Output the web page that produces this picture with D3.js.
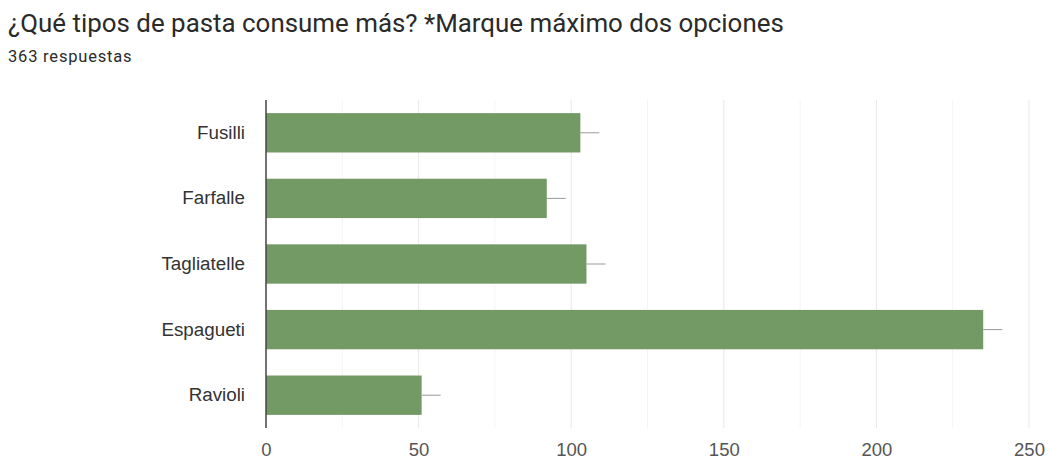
<!DOCTYPE html>
<html><head><meta charset="utf-8">
<script src="https://cdn.jsdelivr.net/npm/d3@7"></script>
<style>html,body{margin:0;padding:0;background:#fff;}</style>
</head><body>
<svg id="chart" width="1048" height="463"></svg>
<script>
const categories = ["Fusilli", "Farfalle", "Tagliatelle", "Espagueti", "Ravioli"];
const values = [103, 92, 105, 235, 51];
const xTicks = [0, 50, 100, 150, 200, 250];
const minorTicks = [25, 75, 125, 175, 225];
const title = "¿Qué tipos de pasta consume más? *Marque máximo dos opciones";
const subtitle = "363 respuestas";

const svg = d3.select("#chart");
const mLeft = 266, mRight = 1029, mTop = 100, mBottom = 428;
const x = d3.scaleLinear().domain([0, 250]).range([mLeft, mRight]);
const y = d3.scaleBand().domain(categories).range([mTop, mBottom]).paddingInner(0.4).paddingOuter(0.2);

svg.append("text").attr("x", 8).attr("y", 32).attr("font-family", "Roboto, Arial, sans-serif")
  .attr("font-size", 25.9).attr("fill", "#2a2a2a").text(title);
svg.append("text").attr("x", 8).attr("y", 61.5).attr("font-family", "Roboto, Arial, sans-serif")
  .attr("font-size", 16.5).attr("letter-spacing", 0.8).attr("fill", "#2a2a2a").text(subtitle);

// minor gridlines
svg.append("g").selectAll("line").data(minorTicks).join("line")
  .attr("x1", d => x(d)).attr("x2", d => x(d)).attr("y1", mTop).attr("y2", mBottom)
  .attr("stroke", "#f4f4f4").attr("stroke-width", 1);
// major gridlines
svg.append("g").selectAll("line").data(xTicks.slice(1)).join("line")
  .attr("x1", d => x(d)).attr("x2", d => x(d)).attr("y1", mTop).attr("y2", mBottom)
  .attr("stroke", "#e8e8e8").attr("stroke-width", 1);

// bars
svg.append("g").selectAll("rect").data(values).join("rect")
  .attr("x", x(0)).attr("y", (d, i) => y(categories[i]))
  .attr("width", d => x(d) - x(0)).attr("height", y.bandwidth())
  .attr("fill", "#739a65");

// leader lines
svg.append("g").selectAll("line").data(values).join("line")
  .attr("x1", d => x(d)).attr("x2", d => x(d) + 19)
  .attr("y1", (d, i) => y(categories[i]) + y.bandwidth() / 2)
  .attr("y2", (d, i) => y(categories[i]) + y.bandwidth() / 2)
  .attr("stroke", "#999").attr("stroke-width", 1);

// baseline axis
svg.append("line").attr("x1", x(0)).attr("x2", x(0)).attr("y1", mTop).attr("y2", mBottom)
  .attr("stroke", "#444").attr("stroke-width", 1.5);

// x axis labels
const xa = svg.append("g").attr("transform", `translate(0,${mBottom})`)
  .call(d3.axisBottom(x).tickValues(xTicks).tickSize(0).tickPadding(15));
xa.select(".domain").remove();
xa.selectAll("text").attr("font-family", "Arial, 'Liberation Sans', sans-serif")
  .attr("font-size", 18.5).attr("fill", "#555");

// y axis labels
const ya = svg.append("g").attr("transform", `translate(${mLeft},0)`)
  .call(d3.axisLeft(y).tickSize(0).tickPadding(21));
ya.select(".domain").remove();
ya.selectAll("text").attr("font-family", "Arial, 'Liberation Sans', sans-serif")
  .attr("font-size", 18.8).attr("fill", "#333");
</script>
</body></html>
